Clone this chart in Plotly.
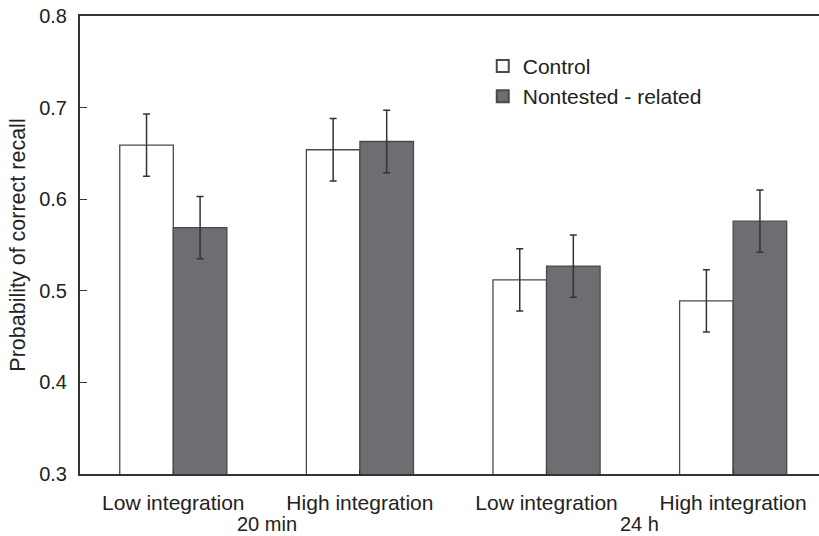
import plotly.graph_objects as go

categories = ["Low integration", "High integration", "Low integration", "High integration"]
groups = ["20 min", "24 h"]
control = [0.659, 0.654, 0.512, 0.489]
control_err = [0.034, 0.034, 0.034, 0.034]
nontested = [0.569, 0.663, 0.527, 0.576]
nontested_err = [0.034, 0.034, 0.034, 0.034]
yticks = [0.3, 0.4, 0.5, 0.6, 0.7, 0.8]

FONT = "Liberation Sans, Arial, sans-serif"
x = list(range(len(categories)))

fig = go.Figure()
fig.add_trace(go.Bar(
    name="Control", x=x, y=control,
    marker=dict(color="white", line=dict(color="#4a4a4a", width=1.3)),
    error_y=dict(type="data", array=control_err, color="#333333", thickness=1.5, width=3.5),
))
fig.add_trace(go.Bar(
    name="Nontested - related", x=x, y=nontested,
    marker=dict(color="#6d6e71", line=dict(color="#4a4a4a", width=1.3)),
    error_y=dict(type="data", array=nontested_err, color="#333333", thickness=1.5, width=3.5),
))

for gi, g in enumerate(groups):
    fig.add_annotation(x=gi * 2 + 0.5, y=0, xref="x", yref="paper", yanchor="top",
                       yshift=-37, text=g, showarrow=False,
                       font=dict(family=FONT, size=20, color="#222"))

fig.update_layout(
    width=819, height=536,
    margin=dict(l=80, r=0, t=16, b=62),
    paper_bgcolor="white", plot_bgcolor="white",
    barmode="group", bargap=0.426, bargroupgap=0,
    font=dict(family=FONT, size=20, color="#222"),
    showlegend=True,
    legend=dict(x=0.545, y=0.935, xanchor="left", yanchor="top",
                bgcolor="rgba(0,0,0,0)", font=dict(size=21, family=FONT, color="#222"),
                tracegroupgap=0, itemsizing="constant"),
    xaxis=dict(
        tickmode="array", tickvals=x, ticktext=categories,
        range=[-0.5, 3.46], showgrid=False, zeroline=False, automargin=False,
        showline=True, linecolor="#333", linewidth=2, mirror=True,
        ticks="inside", tickson="boundaries", ticklen=4, tickcolor="#333", tickwidth=1,
        ticklabelstandoff=9, ticklabeloverflow="allow",
        tickfont=dict(family=FONT, size=21, color="#222"),
    ),
    yaxis=dict(
        range=[0.3, 0.8], tickvals=yticks, ticktext=[f"{v:.1f}" for v in yticks],
        showgrid=False, zeroline=False, automargin=False,
        showline=True, linecolor="#333", linewidth=2,
        ticks="inside", ticklen=7, tickcolor="#333", tickwidth=1,
        ticklabelstandoff=7, ticklabeloverflow="allow",
        tickfont=dict(family=FONT, size=20, color="#222"),
        title=dict(text="Probability of correct recall", font=dict(family=FONT, size=21.5, color="#222"), standoff=8),
    ),
)
# remove the browser's default 8px body margin so the figure fills the window
fig.write_html("out.html", config={"displayModeBar": False},
               post_script="document.body.style.margin='0px';")
